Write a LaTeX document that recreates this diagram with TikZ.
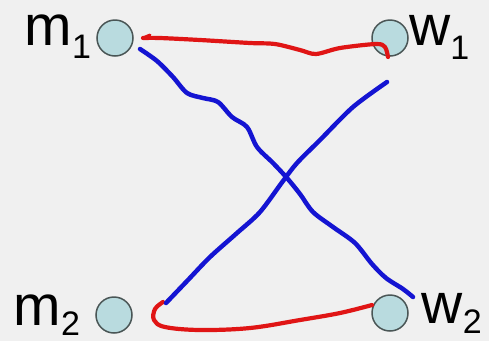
\documentclass[tikz,border=0pt]{standalone}
\usepackage{fontspec}
\setmainfont{Liberation Sans}
\definecolor{bgc}{HTML}{F0F0F0}
\definecolor{dotfill}{HTML}{B9DBDF}
\definecolor{dotline}{HTML}{4A5656}
\definecolor{redl}{HTML}{E01515}
\definecolor{bluel}{HTML}{1414D2}
\newcommand{\lbl}[3]{{\fontsize{57}{57}\selectfont #1}{\fontsize{34}{34}\selectfont\raisebox{-#3pt}{#2}}}
\begin{document}
\begin{tikzpicture}[x=1pt,y=-1pt,
  dot/.style={circle,draw=dotline,fill=dotfill,line width=1.5pt,minimum size=36pt,inner sep=0pt},
  lab/.style={anchor=base west,inner sep=0pt,text=black},
  redline/.style={draw=redl,line width=4.2pt,line cap=round,line join=round},
  blueline/.style={draw=bluel,line width=4.5pt,line cap=round,line join=round}]
\fill[bgc] (0,0) rectangle (489,341);
\useasboundingbox (0,0) rectangle (489,341);
\node[dot] (m1) at (115,38) {};
\node[dot] (w1) at (390,38) {};
\node[dot] (m2) at (114,315) {};
\node[dot] (w2) at (390,313) {};
\node[lab] (lm1) at (24.4,45) {\lbl{m}{1}{13}};
\node[lab] (lw1) at (409,45) {\lbl{w}{1}{14}};
\node[lab] (lm2) at (13.5,325) {\lbl{m}{2}{10}};
\node[lab] (lw2) at (421.6,323) {\lbl{w}{2}{10}};
% red connectors
\coordinate (r1s) at (388,57);
\coordinate (r1e) at (143,38);
\draw[redline] plot[smooth,tension=0.5] coordinates {(r1s) (385,47) (376,44) (340,48) (316,54) (300,50) (275,44) (250,43) (200,40) (160,38) (r1e)};
\draw[redline,line width=3pt] (r1e) -- (150,35);
\coordinate (r2s) at (163,302);
\coordinate (r2e) at (372,305);
\draw[redline] plot[smooth,tension=0.6] coordinates {(r2s) (155,309) (154,320) (165,327) (200,330) (250,328) (300,320) (340,313) (r2e)};
% blue connectors
\coordinate (b1s) at (140,49);
\coordinate (b1e) at (413,297);
\draw[blueline] plot[smooth,tension=0.5] coordinates {(b1s) (157,61) (173,77) (187,93) (203,98) (218,102) (232,117) (247,127) (257,147) (273,163) (287,178) (300,194) (313,212) (333,227) (355,243) (372,264) (386,278) (403,289) (b1e)};
\coordinate (b2s) at (166,303);
\coordinate (b2e) at (387,82);
\draw[blueline] plot[smooth,tension=0.5] coordinates {(b2s) (188,280) (210,257) (237,233) (260,212) (283,181) (297,163) (320,140) (353,107) (b2e)};
\end{tikzpicture}
\end{document}
